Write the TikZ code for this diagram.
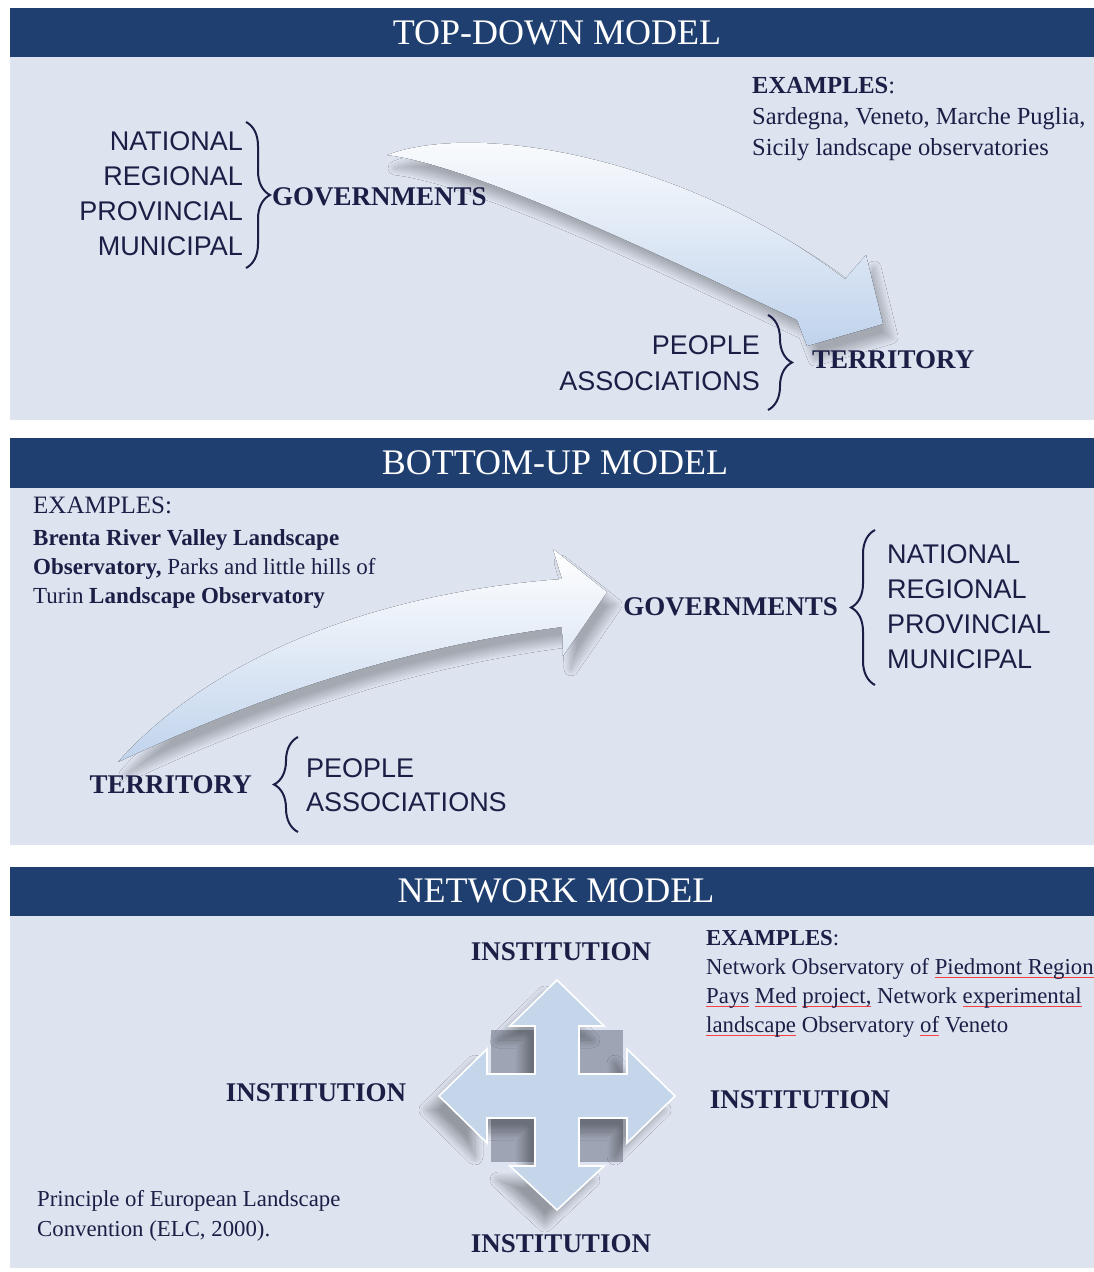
\documentclass[tikz,border=0pt]{standalone}
\usepackage{fontspec}
\setmainfont{Liberation Serif}
\setsansfont{Liberation Sans}
\usepackage{xcolor}
\usepackage{tikz}
\usetikzlibrary{decorations.pathreplacing,shadows.blur,positioning}

\definecolor{hdrblue}{RGB}{31,63,112}
\definecolor{panelbg}{RGB}{221,227,239}
\definecolor{ink}{RGB}{27,31,70}
\definecolor{arrowblue}{RGB}{192,211,236}
\definecolor{crossblue}{RGB}{197,214,235}
\definecolor{gapgrey}{RGB}{158,164,180}

\newsavebox\spellbox
\newcommand\spellmark[1]{\sbox\spellbox{#1}\rlap{\textcolor{red!75}{\rule[-0.3ex]{\wd\spellbox}{0.6pt}}}\usebox\spellbox}

\begin{document}
\begin{tikzpicture}[x=1pt,y=-1pt,
  panel/.style={fill=panelbg},
  hdr/.style={fill=hdrblue},
  title/.style={text=white,font=\fontsize{36}{40}\selectfont,inner sep=0pt},
  level/.style={text=ink,font=\sffamily\fontsize{27}{35}\selectfont,inner sep=0pt},
  target/.style={text=ink,font=\bfseries\fontsize{27}{30}\selectfont,inner sep=0pt},
  expl/.style={text=ink,align=left,inner sep=0pt},
  curly/.style={draw=ink,line width=2pt,decorate,decoration={brace,amplitude=24pt}},
  bigarrow/.style={top color=white,bottom color=arrowblue,
    blur shadow={shadow xshift=8pt,shadow yshift=-13pt,shadow opacity=26,shadow blur radius=7pt,shadow blur steps=16}}
]
\useasboundingbox (0,0) rectangle (1094,1272);

% panels
\fill[panel] (10,8) rectangle (1094,420);
\fill[hdr] (10,8) rectangle (1094,57);
\fill[panel] (10,438) rectangle (1094,845);
\fill[hdr] (10,438) rectangle (1094,488);
\fill[panel] (10,867) rectangle (1094,1268);
\fill[hdr] (10,867) rectangle (1094,916);

\node[title] (tdtitle) at (557,33) {TOP-DOWN MODEL};
\node[title] (butitle) at (555,463) {BOTTOM-UP MODEL};
\node[title] (nwtitle) at (556,891) {NETWORK MODEL};

% top-down model
\coordinate (tdtail) at (387,155);
\coordinate (tdtip) at (883,324);
\fill[bigarrow] (tdtail) .. controls (480,120) and (690,160) .. (845,279)
  -- (866,255) -- (tdtip) -- (807,346) -- (797,320)
  .. controls (650,250) and (470,165) .. (tdtail) -- cycle;

\node[level,align=right,anchor=east] (tdlevels) at (243,194) {NATIONAL\\REGIONAL\\PROVINCIAL\\MUNICIPAL};
\draw[curly] (246,122) -- (246,268);
\node[target,anchor=west] (tdgov) at (272,197) {GOVERNMENTS};

\node[expl,anchor=north west,font=\fontsize{24.5}{31}\selectfont] (tdex) at (752,77)
  {\textbf{EXAMPLES}:\\Sardegna, Veneto, Marche Puglia,\\Sicily landscape observatories};

\node[level,align=right,anchor=east,font=\sffamily\fontsize{27}{36}\selectfont] (tdpeople) at (760,363) {PEOPLE\\ASSOCIATIONS};
\draw[curly] (768,315) -- (768,410);
\node[target,anchor=west] (tdterr) at (812,360) {TERRITORY};

% bottom-up model
\coordinate (butail) at (118,762);
\coordinate (butip) at (607,592);
\fill[bigarrow] (butail) .. controls (200,670) and (350,595) .. (562,579)
  -- (553,549) -- (butip) -- (563,656) -- (562,627)
  .. controls (380,650) and (230,710) .. (butail) -- cycle;

\node[expl,anchor=north west,font=\fontsize{23}{29}\selectfont] (buex) at (33,497)
  {{\fontsize{25}{29}\selectfont EXAMPLES:}\\[3pt]\textbf{Brenta River Valley Landscape}\\\textbf{Observatory,} Parks and little hills of\\Turin \textbf{Landscape Observatory}};

\node[target,anchor=east] (bugov) at (838,607) {GOVERNMENTS};
\draw[curly] (875,685) -- (875,530);
\node[level,align=left,anchor=west] (bulevels) at (887,607) {NATIONAL\\REGIONAL\\PROVINCIAL\\MUNICIPAL};

\node[target,anchor=east] (buterr) at (252,785) {TERRITORY};
\draw[curly] (298,832) -- (298,737);
\node[level,align=left,anchor=west,font=\sffamily\fontsize{27}{34}\selectfont] (bupeople) at (306,785) {PEOPLE\\ASSOCIATIONS};

% network model
\coordinate (hub) at (557,1096);
\begin{scope}[shift={(hub)}]
  \fill[gapgrey] (-66,-66) rectangle (-23,-23);
  \fill[gapgrey] (23,-66) rectangle (66,-23);
  \fill[gapgrey] (-66,23) rectangle (-23,66);
  \fill[gapgrey] (23,23) rectangle (66,66);
  \filldraw[fill=crossblue,draw=white,line width=1.6pt,
    blur shadow={shadow xshift=-12pt,shadow yshift=-14pt,shadow opacity=32,shadow blur radius=8pt,shadow blur steps=16}]
    (0,-116) -- (47,-70) -- (22,-70) -- (22,-22) -- (70,-22) -- (70,-47) -- (118,0)
    -- (70,47) -- (70,22) -- (22,22) -- (22,70) -- (47,70) -- (0,114)
    -- (-47,70) -- (-22,70) -- (-22,22) -- (-70,22) -- (-70,47) -- (-118,0)
    -- (-70,-47) -- (-70,-22) -- (-22,-22) -- (-22,-70) -- (-47,-70) -- cycle;
\end{scope}

\node[target] (insttop) at (561,952) {INSTITUTION};
\node[target] (instleft) at (316,1093) {INSTITUTION};
\node[target] (instright) at (800,1100) {INSTITUTION};
\node[target] (instbottom) at (561,1244) {INSTITUTION};

\node[expl,anchor=north west,font=\fontsize{22.8}{29}\selectfont] (nwex) at (706,930)
  {\textbf{EXAMPLES}:\\Network Observatory of \spellmark{Piedmont Region}\\\spellmark{Pays} \spellmark{Med} \spellmark{project,} Network \spellmark{experimental}\\\spellmark{landscape} Observatory \spellmark{of} Veneto};

\node[expl,anchor=north west,font=\fontsize{22.8}{30}\selectfont] (nwelc) at (37,1190)
  {Principle of European Landscape\\Convention (ELC, 2000).};
\end{tikzpicture}
\end{document}
